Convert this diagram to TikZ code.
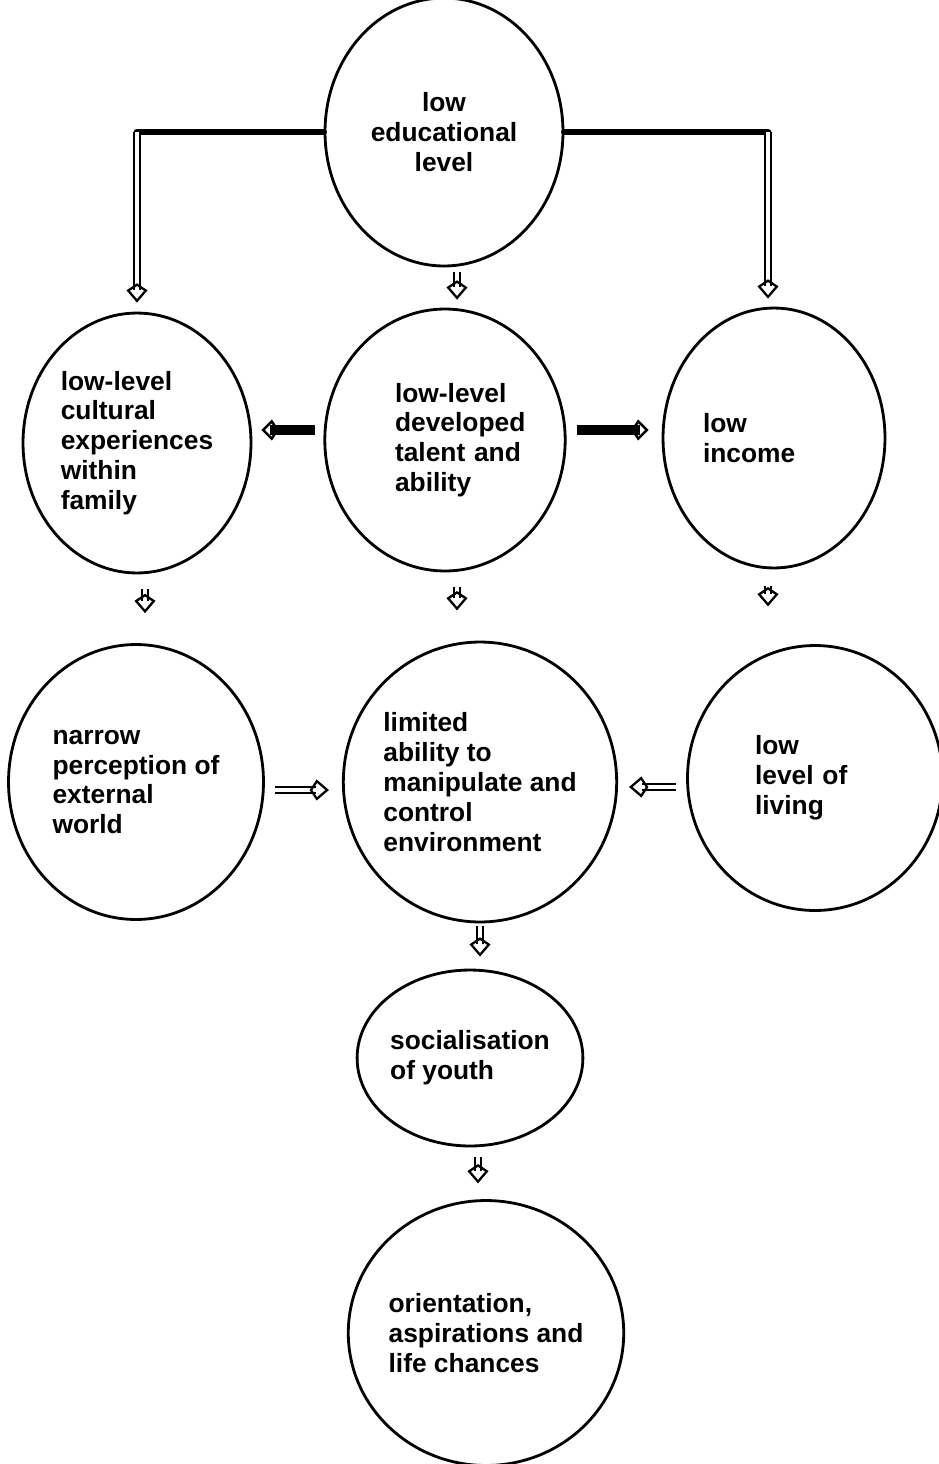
\documentclass[tikz,border=0pt]{standalone}
\usepackage{fontspec}
\setmainfont{Liberation Sans}
\usetikzlibrary{shapes.geometric, arrows.meta, positioning, calc}
\tikzstyle{bar} = [line width=3.8pt, line cap=round]

\begin{document}
\begin{tikzpicture}[
  x=0.02cm, y=-0.02cm,
  every node/.style={font=\fontsize{15}{17}\selectfont\bfseries},
  blob/.style={ellipse, draw=black, line width=1.6pt, inner sep=0pt, align=left},
  nudge/.style={text width=#1},
  hollow/.style={double=white, double distance=1.8pt, line width=1.3pt, -{Kite[open, length=11pt, width=12pt, inset=4pt, line width=1.3pt]}},
  push/.style={line width=5.5pt, -{Kite[open, length=10pt, width=12pt, inset=4pt, line width=1.4pt]}}
]
\useasboundingbox (0,0) rectangle (939,1464);

% Circles, top to bottom
\node[blob, align=center, minimum width=4.76cm, minimum height=5.36cm] (edu) at (444,132) {low\\educational\\level};
\node[blob, minimum width=4.56cm, minimum height=5.2cm] (cul) at (137,443) {low-level\\cultural\\experiences\\ within\\ family};
\node[blob, nudge=3.4cm, execute at begin node={\leftskip=0.7cm}, minimum width=4.7cm, minimum height=5.24cm] (tal) at (445,440) {low-level\\developed\\talent and\\ability};
\node[blob, nudge=2.84cm, minimum width=4.44cm, minimum height=5.2cm] (inc) at (774,438) {low\\income};
\node[blob, minimum width=5.1cm, minimum height=5.5cm] (nar) at (136,782) {narrow\\perception of\\external\\world};
\node[blob, minimum width=5.28cm, minimum height=5.6cm] (lim) at (480,782) {limited\\ability to\\manipulate and\\control\\environment};
\node[blob, nudge=2.4cm, minimum width=5.1cm, minimum height=5.3cm] (liv) at (815,778) {low\\level of\\living};
\node[blob, minimum width=3.7cm, minimum height=3.52cm] (soc) at (470,1058) {socialisation\\of youth};
\node[blob, minimum width=5.44cm, minimum height=5.3cm] (ori) at (486,1333) {orientation,\\aspirations and\\life chances};

% Branches from the top circle
\coordinate (cl) at (cul.north |- edu.west);
\coordinate (cr) at ($(inc.north |- edu.west)+(-6,0)$);
\draw[bar] (edu.west) -- (cl);
\draw[hollow] (cl) -- ($(cul.north)+(0,-9)$);
\draw[bar] (edu.east) -- (cr);
\draw[hollow] (cr) -- ($(cr |- inc.north)+(0,-8)$);
\draw[hollow] ($(edu.south)+(13,5)$) -- ($(tal.north)+(12,-8)$);

% Second row
\coordinate (ml) at ($(tal.west)+(-8,-10)$);
\coordinate (mr) at ($(tal.east)+(10,-10)$);
\draw[push] (ml) -- ($(cul.east |- ml)+(9,0)$);
\draw[push] (mr) -- ($(inc.west |- mr)+(-13,0)$);
\draw[hollow] ($(cul.south)+(8,15)$) -- ($(nar.north)+(9,-30)$);
\draw[hollow] ($(tal.south)+(12,15)$) -- ($(tal.south)+(12,38)$);
\draw[hollow] ($(inc.south)+(-6,17)$) -- ($(inc.south)+(-6,37)$);

% Third row and below
\draw[hollow] ($(nar.east)+(10,8)$) -- ($(lim.west)+(-13,8)$);
\coordinate (rl) at ($(liv.west)+(-10,9)$);
\draw[hollow] (rl) -- ($(lim.east |- rl)+(11,0)$);
\draw[hollow] ($(lim.south)+(0,3)$) -- ($(lim.south |- soc.north)+(0,-12)$);
\draw[hollow] ($(soc.south)+(8,10)$) -- ($(soc.south)+(8,36)$);

\end{tikzpicture}
\end{document}
